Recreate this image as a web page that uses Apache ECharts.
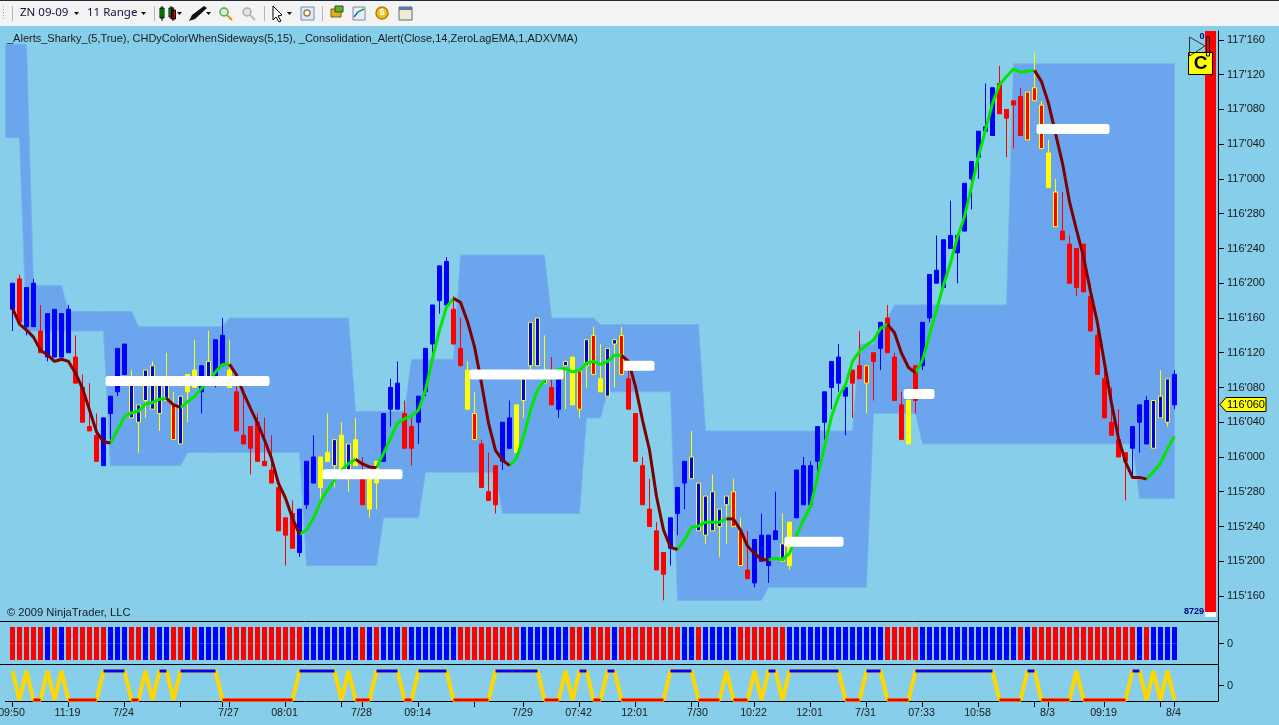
<!DOCTYPE html>
<html>
<head>
<meta charset="utf-8">
<title>ZN 09-09 11 Range</title>
<script src="https://cdn.jsdelivr.net/npm/echarts@6/dist/echarts.min.js"></script>
<style>html,body{margin:0;padding:0;background:#87CEEB;overflow:hidden}#c{width:1279px;height:725px}</style>
</head>
<body>
<div id="c"></div>
<script>
// Prices are read as ticks (1/64 point) above 115'000
var bodyTop=[104,105,103,104,93,97,98,97,98,87,80,71,69,73,78,89,90,81,76,84,85,81,81,76,78,83,84,85,86,91,92,84,79,69,71,72,63,61,57,50,51,52,63,64,64,65,68,69,67,68,61,61,63,74,80,81,74,71,78,89,99,108,109,98,89,84,74,67,56,62,72,73,76,82,95,96,84,80,82,86,87,84,91,92,82,89,91,92,82,74,62,52,47,42,50,57,63,64,58,55,56,52,55,56,47,38,45,46,46,47,44,49,61,62,62,71,79,86,87,80,84,85,85,88,95,96,87,76,77,85,95,106,107,114,115,115,127,132,139,140,149,150,144,146,147,148,149,145,134,125,116,113,112,113,101,92,82,72,68,65,71,76,77,77,78,82,83];
var bodyBottom=[98,95,94,94,88,87,87,87,88,81,72,70,63,62,74,79,83,73,72,77,75,74,77,68,67,79,80,79,82,82,85,80,70,67,66,63,62,58,47,46,43,42,53,58,57,63,62,61,61,62,53,52,58,63,75,75,66,66,72,79,90,100,99,90,85,75,68,57,54,53,63,66,65,77,85,85,81,76,75,85,76,75,85,83,79,78,90,83,75,63,53,48,38,37,43,51,58,59,47,46,47,48,53,48,39,36,35,40,39,45,40,39,50,53,53,63,72,80,81,78,81,82,81,86,89,88,77,68,67,77,85,96,104,103,112,111,116,128,133,139,138,143,142,145,138,137,146,135,126,117,114,104,103,102,93,83,73,69,64,63,66,72,67,66,73,72,76];
var barHigh=[104,106,103,105,99,97,98,97,99,92,83,81,74,73,78,89,90,84,76,84,86,81,88,79,78,83,91,85,93,91,96,91,81,78,71,74,73,69,58,50,54,52,63,69,64,74,68,72,67,73,64,61,63,74,82,86,77,73,78,89,99,108,110,101,96,86,79,68,65,62,72,77,76,84,95,96,92,87,84,86,87,84,91,94,90,89,91,94,86,74,64,59,49,42,50,57,63,70,58,55,60,52,55,59,50,47,45,51,46,56,51,49,61,64,63,71,79,86,90,80,84,93,85,88,95,99,88,79,78,85,95,106,115,114,123,115,127,132,139,150,149,154,144,146,149,148,157,146,137,128,125,115,112,113,104,94,84,80,75,65,71,76,78,77,84,82,84];
var barLow=[93,95,92,94,88,86,87,87,88,81,72,70,63,62,68,78,83,73,65,73,75,70,77,68,67,72,80,74,82,80,85,80,70,67,60,63,62,58,47,39,43,41,52,58,53,63,57,61,56,62,53,50,52,63,71,75,66,62,67,78,88,97,99,90,85,75,68,57,54,51,61,66,65,73,84,85,81,76,73,75,76,73,80,83,79,78,80,83,75,63,53,48,38,31,39,46,52,59,47,44,47,41,44,48,39,36,34,40,35,45,40,38,50,53,52,60,68,75,79,69,73,82,74,77,84,88,77,68,67,74,84,95,104,103,112,104,116,121,128,139,138,143,133,135,138,137,146,135,126,117,114,104,101,102,93,83,73,69,64,54,60,65,67,66,73,71,75];
// b blue, r red, y yellow, B blue outlined yellow, R red outlined yellow
var barStyle=("brbbrbbbbr"+"rrrbbbbBBB"+"BBBRByybBb"+"byrrrrrrrr"+"rbbbyyByBy"+"ryybbbrrbb"+"bbbrryRrrr"+"bbyBBBBrbB"+"yRBRyBBRrr"+"rrrrbbbBBB"+"BBBRRrbbbb"+"Bybbbbbbbb"+"rrRrbrrryr"+"bbbbbbbbbb"+"brrrrRRRyR"+"rrrrrrrrrr"+"bbbBBBb").split("");
var trendLine=[98.2,94.6,93.2,91.6,88.6,87.5,86,86.5,86,83.3,79.8,74.8,69.8,67.5,67.2,70.2,73.3,74.2,74.6,76.2,76.5,77.3,77.5,76,75.4,76.7,77.9,79.8,81.4,83.6,85.3,85.3,82.9,78.7,75.2,71.8,67.9,63.7,57.9,54.5,49.9,46.2,47.2,49.9,53.7,56.4,58.7,61,62.5,63.5,62.4,61.7,61.5,64.8,68.3,71.8,72.8,73.4,74.8,79.4,86.7,93.2,98.5,100.5,99.6,95.2,89.4,81,71.8,65.5,63.3,62,63.7,68.7,74.8,79.4,81.7,83.3,84.2,84.4,83.6,83.9,85.6,86,85.3,86,87.4,87.4,86,80.2,72.5,65.6,54.9,47.2,43.2,42.7,44.9,47.8,48.1,49,49,49,49.8,49.7,47.2,43.5,41.8,40.4,40.3,40.7,40.4,41.8,46,49.5,52.6,59.5,66.4,73.3,77.9,80.6,86,88.3,89.8,90.9,93.6,94.5,92.6,87.9,84.6,83.4,86.3,92.1,97.8,103.6,108.6,114.7,119.3,126.2,133.2,139.3,145.4,149.7,151.6,153.3,152.6,152.8,153,150.4,145.4,138.5,131.6,122.8,116.3,110.1,102.1,94.8,85.6,76.4,68.3,62.9,59.3,59.3,58.9,60.6,62.5,66,68.7];
var trendDownRanges=[[0,6],[7,14],[22,24],[31,41],[49,52],[63,71],[87,95],[102,108],[125,129],[146,162]];
// band runs begin one bar before the first candle
var bandUpperRuns=[[159,4],[103.5,5],[97.5,10],[94,13],[96,18],[74.5,8],[86.5,7],[110.5,13],[96,7],[94.5,15],[70,22],[90,3],[93,1],[96,1],[99,17],[154.5,24]];
var bandLowerRuns=[[137.5,3],[93,12],[62,11],[65,17],[39,11],[50,6],[60.5,11],[51,12],[73,3],[79,10],[31,13],[34,15],[74,7],[67,31],[54.5,6]];
var alertZones=[[14,36,81.5],[45,55,60],[66,78,83],[88,91,85],[111,118,44.5],[128,131,78.5],[147,156,139.5]];
var stripColors=("rrrrrbrbrr"+"rrrrbbbrrb"+"rbbrrbrbbb"+"brrrrrrrrr"+"rrbbbbbbbb"+"rbrbbbrbbb"+"bbbbrrrrrr"+"rrrbbbbbbb"+"rrbrrrbrrr"+"rrrrrrbbrb"+"bbbbrrrrrr"+"rbbbbbbbbb"+"bbbbbrrrrr"+"bbbbbbbbbb"+"bbbbrbrrrr"+"rrrrrrrrrr"+"rbrbbbb").split("");
var oscStates=("+-+--+-+--"+"---++++--+"+"-++-++++++"+"----------"+"-++++++-+-"+"--++++--++"+"+++------+"+"++++++---+"+"-++--++---"+"----++++--"+"--+---+-++"+"-++++++++-"+"--+++----+"+"++++++++++"+"+----++---"+"--+-------"+"++-+-+-").split("");
var tickBars=[0,8,16,24,30,31,39,47,50,58,66,73,81,89,97,98,106,114,122,130,138,146,148,156,164,166];
var timeLabels={0:"09:50",8:"11:19",16:"7/24",31:"7/27",39:"08:01",50:"7/28",58:"09:14",73:"7/29",81:"07:42",89:"12:01",98:"7/30",106:"10:22",114:"12:01",122:"7/31",130:"07:33",138:"10:58",148:"8/3",156:"09:19",166:"8/4"};
var priceTicks=[115.5,115.625,115.75,115.875,116,116.125,116.25,116.375,116.5,116.625,116.75,116.875,117,117.125,117.25,117.375,117.5];
var lastPriceTicks=76;

function px(n){return 115+n/64;}
function expand(runs){var o=[];runs.forEach(function(r){for(var k=0;k<r[1];k++)o.push(r[0]);});return o;}
function fmtPrice(v){var w=Math.floor(v+1e-9);var f=Math.round((v-w)*320);return w+"'"+("00"+f).slice(-3);}
var bandUpper=expand(bandUpperRuns),bandLower=expand(bandLowerRuns);
var COL={b:["#0000ff","#0000ff"],r:["#ff0000","#ff0000"],y:["#ffff00","#ffff00"],B:["#0000ff","#ffff00"],R:["#ff0000","#ffff00"]};
var candleData=bodyTop.map(function(t,i){
  var c=COL[barStyle[i]];
  return {value:[i,px(bodyBottom[i]),px(t),px(barLow[i]),px(barHigh[i])],
    itemStyle:{color:c[0],color0:c[0],borderColor:c[1],borderColor0:c[1],borderColorDoji:c[1]}};
});
function inDown(i){return trendDownRanges.some(function(r){return i>=r[0]&&i<=r[1];});}
function inUp(i){
  for(var k=0;k<trendDownRanges.length;k++){var r=trendDownRanges[k];if(i>r[0]&&i<r[1])return false;}
  return true;
}
var downData=trendLine.map(function(v,i){return [i,inDown(i)?px(v):null];});
var upData=trendLine.map(function(v,i){return [i,inUp(i)?px(v):null];});
var alertData=[];alertZones.forEach(function(z){for(var i=z[0];i<=z[1];i++)alertData.push([i,px(z[2])]);});
var oscVal=oscStates.map(function(s){return s==="+"?1:-1;});
var oscAll=oscVal.map(function(v,i){return [i,v];});
function flat(target){return oscVal.map(function(v,i){
  var keep=v===target&&(oscVal[i-1]===target||oscVal[i+1]===target);return [i,keep?v:null];});}
var STRIP={r:"#ff0000",b:"#0000ff"};
function strip(sign){return stripColors.map(function(s,i){return {value:[i,sign],itemStyle:{color:STRIP[s]}};});}

var FONT="'Liberation Sans',Arial,sans-serif";
var XMIN=-12.5/7,XMAX=(1218-12.5)/7;
var yMin=px((735-621)/4.344),yMax=px((735-31)/4.344);
function xAxis(idx,ticks){
  return {type:"value",gridIndex:idx,min:XMIN,max:XMAX,splitLine:{show:false},
    axisLine:{show:true,onZero:false,lineStyle:{color:"#000",width:1}},
    axisTick:{show:ticks,length:6,inside:false,lineStyle:{color:"#000"},customValues:ticks?tickBars:undefined},
    axisLabel:{show:ticks,customValues:ticks?Object.keys(timeLabels).map(Number):undefined,margin:7,padding:[0,2,0,0],color:"#1a1a1a",fontFamily:FONT,fontSize:10.7,hideOverlap:false,alignMinLabel:"center",alignMaxLabel:"center",
      formatter:function(v){return timeLabels[v]||"";}}};
}
function yAxis(idx,min,max,custom,fmt){
  return {type:"value",gridIndex:idx,position:"right",min:min,max:max,splitLine:{show:false},
    axisLine:{show:true,onZero:false,lineStyle:{color:"#000",width:1}},
    axisTick:{show:true,length:6,lineStyle:{color:"#000"},customValues:custom},
    axisLabel:{show:true,customValues:custom,margin:9,padding:[2,0,0,0],color:"#1a1a1a",fontFamily:FONT,fontSize:11,showMinLabel:true,showMaxLabel:true,formatter:fmt}};
}
var G=[];
function g(o){G.push(o);}
function rect(x,y,w,h,fill,stroke){g({type:"rect",shape:{x:x,y:y,width:w,height:h},style:{fill:fill,stroke:stroke||null,lineWidth:1},z:50});}
function line(x1,y1,x2,y2,c,w){g({type:"line",shape:{x1:x1,y1:y1,x2:x2,y2:y2},style:{stroke:c,lineWidth:w||1},z:51});}
function poly(pts,fill,stroke){g({type:"polygon",shape:{points:pts},style:{fill:fill,stroke:stroke||null,lineWidth:1},z:51});}
function text(x,y,s,size,color,weight,align){g({type:"text",x:x,y:y,style:{text:s,font:(weight||"normal")+" "+size+"px "+FONT,fill:color,textAlign:align||"left",textVerticalAlign:"middle"},z:52});}
function circ(cx,cy,r,fill,stroke){g({type:"circle",shape:{cx:cx,cy:cy,r:r},style:{fill:fill,stroke:stroke||null,lineWidth:1.5},z:51});}
// toolbar
rect(0,0,1279,26,"#f3f3f3");
rect(0,0,1279,1,"#1d2b3a");
[6,9,12,15,18].forEach(function(y){rect(3,y,1,1,"#9a9a9a");});
line(12.5,6,12.5,21,"#b5b5b5");line(154.5,6,154.5,21,"#b5b5b5");line(264.5,6,264.5,21,"#b5b5b5");line(322.5,6,322.5,21,"#b5b5b5");
g({type:"text",x:20,y:13,style:{text:"ZN 09-09",font:"11.5px 'Noto Sans',sans-serif",fill:"#10103a",textVerticalAlign:"middle"},z:52});
g({type:"text",x:87,y:13,style:{text:"11 Range",font:"11.5px 'Noto Sans',sans-serif",fill:"#10103a",textVerticalAlign:"middle"},z:52});
poly([[74,12],[79,12],[76.5,15]],"#111");poly([[141,12],[146,12],[143.5,15]],"#111");
poly([[177,12],[182,12],[179.5,15]],"#111");poly([[206,12],[211,12],[208.5,15]],"#111");poly([[287,12],[292,12],[289.5,15]],"#111");
line(162,6,162,21,"#000");rect(160,8,4,10,"#00e000","#000");line(171,6,171,19,"#000");rect(169,8,4,9,"#00e000","#000");line(173,7,173,21,"#000");rect(171.5,10,4,9,"#e00000","#000");
poly([[204,6],[207,8],[195,19],[189,21],[192,15]],"#111");
circ(224,12,4,"#d7f0d7","#4aa84a");line(227,15,232,20,"#e09020",2);
circ(247,12,4,"#e4e4e4","#aaa");line(250,15,255,20,"#bbb",2);
poly([[273,6],[273,20],[276,17],[279,22],[281,21],[278,16],[282,15]],"#fff","#000");
rect(301,7,13,13,"#dfe9f7","#6c8fc0");circ(307,13,3,"#fff","#a08040");
rect(331,9,10,8,"#e0b020","#7a6010");rect(335,6,8,6,"#60b030","#305010");
rect(353,7,12,13,"#e8eef7","#808a9a");line(354,17,358,12,"#2060d0",1.5);line(358,12,364,9,"#20a040",1.5);
circ(382,13,6,"#f0c020","#b08000");text(382,13,"$",9,"#fff","bold","center");
rect(399,7,13,13,"#f0ead0","#606a7a");rect(399,7,13,3,"#5878b0");
// header / footer labels
text(7,38.5,"_Alerts_Sharky_(5,True), CHDyColorWhenSideways(5,15), _Consolidation_Alert(Close,14,ZeroLagEMA,1,ADXVMA)",11,"#1a1a1a");
text(7,612.5,"\u00a9 2009 NinjaTrader, LLC",11.2,"#1a1a1a");
// volume gauge
rect(1205,31,11,581,"#ff0000");rect(1205,612,11,5,"#ffffff");
text(1204,612,"8729",9,"#00007f","bold","right");
// alert box
rect(1188.5,52.5,24,22,"#ffff00","#000");text(1200.5,63.5,"C",19,"#000","bold","center");
poly([[1189.5,37],[1205,46],[1189.5,56]],"none","#333");
rect(1206.5,37,3,19,"none","#000");
text(1202,37,"0",9,"#00007f","bold","center");
// last price tag
poly([[1220,404.5],[1226,397.5],[1266,397.5],[1266,411.5],[1226,411.5]],"#ffff00","#000");
text(1227,405,fmtPrice(px(lastPriceTicks)),11,"#000");
// bottom axis line starts a little inside the window
rect(0,700,5,2,"#87CEEB");

var option={
  animation:false,backgroundColor:"#87CEEB",
  grid:[{left:0,width:1218,top:31,height:590,outerBoundsMode:"none"},{left:0,width:1218,top:621,height:43,outerBoundsMode:"none"},{left:0,width:1218,top:664,height:37,outerBoundsMode:"none"}],
  xAxis:[xAxis(0,false),xAxis(1,false),xAxis(2,true)],
  yAxis:[yAxis(0,yMin,yMax,priceTicks,fmtPrice),yAxis(1,-20.5/16.5,22.5/16.5,[0],function(){return "0";}),yAxis(2,-1.07,1.48,[0],function(){return "0";})],
  series:[
    {type:"custom",name:"Consolidation band",xAxisIndex:0,yAxisIndex:0,z:1,silent:true,clip:true,
      data:bandUpper.map(function(u,i){return [i-1,px(u),px(bandLower[i])];}),encode:{x:0,y:[1,2]},
      renderItem:function(p,api){
        if(p.dataIndex!==0)return null;
        var pts=[];
        bandUpper.forEach(function(u,i){pts.push(api.coord([i-1,px(u)]));});
        for(var i=bandLower.length-1;i>=0;i--)pts.push(api.coord([i-1,px(bandLower[i])]));
        return {type:"polygon",shape:{points:pts},style:{fill:"#6ba5ed",stroke:"#77b3ec",lineWidth:1}};
      }},
    {type:"candlestick",name:"ZN 09-09",xAxisIndex:0,yAxisIndex:0,z:2,silent:true,barWidth:5,data:candleData,encode:{x:0,y:[1,2,3,4]},itemStyle:{borderWidth:1}},
    {type:"line",name:"Trend up",xAxisIndex:0,yAxisIndex:0,z:3,silent:true,data:upData,showSymbol:false,connectNulls:false,lineStyle:{color:"#00e800",width:3},itemStyle:{color:"#00e800"}},
    {type:"line",name:"Trend down",xAxisIndex:0,yAxisIndex:0,z:3,silent:true,data:downData,showSymbol:false,connectNulls:false,lineStyle:{color:"#7f0000",width:3},itemStyle:{color:"#7f0000"}},
    {type:"scatter",name:"Consolidation alert",xAxisIndex:0,yAxisIndex:0,z:4,silent:true,data:alertData,symbol:"roundRect",symbolSize:[10,10],itemStyle:{color:"#fff",opacity:1}},
    {type:"bar",name:"Direction up half",xAxisIndex:1,yAxisIndex:1,stack:"dir",silent:true,barWidth:5,data:strip(1)},
    {type:"bar",name:"Direction low half",xAxisIndex:1,yAxisIndex:1,stack:"dir",silent:true,barWidth:5,data:strip(-1)},
    {type:"line",name:"Oscillator",xAxisIndex:2,yAxisIndex:2,silent:true,data:oscAll,showSymbol:false,lineStyle:{color:"#ffd700",width:4},z:2},
    {type:"line",name:"Oscillator high",xAxisIndex:2,yAxisIndex:2,silent:true,data:flat(1),showSymbol:false,lineStyle:{color:"#0000ff",width:3},z:3},
    {type:"line",name:"Oscillator low",xAxisIndex:2,yAxisIndex:2,silent:true,data:flat(-1),showSymbol:false,lineStyle:{color:"#e00000",width:3},z:3}
  ],
  graphic:{elements:G}
};
var chart=echarts.init(document.getElementById("c"),null,{renderer:"canvas"});
chart.setOption(option);
</script>
</body>
</html>
